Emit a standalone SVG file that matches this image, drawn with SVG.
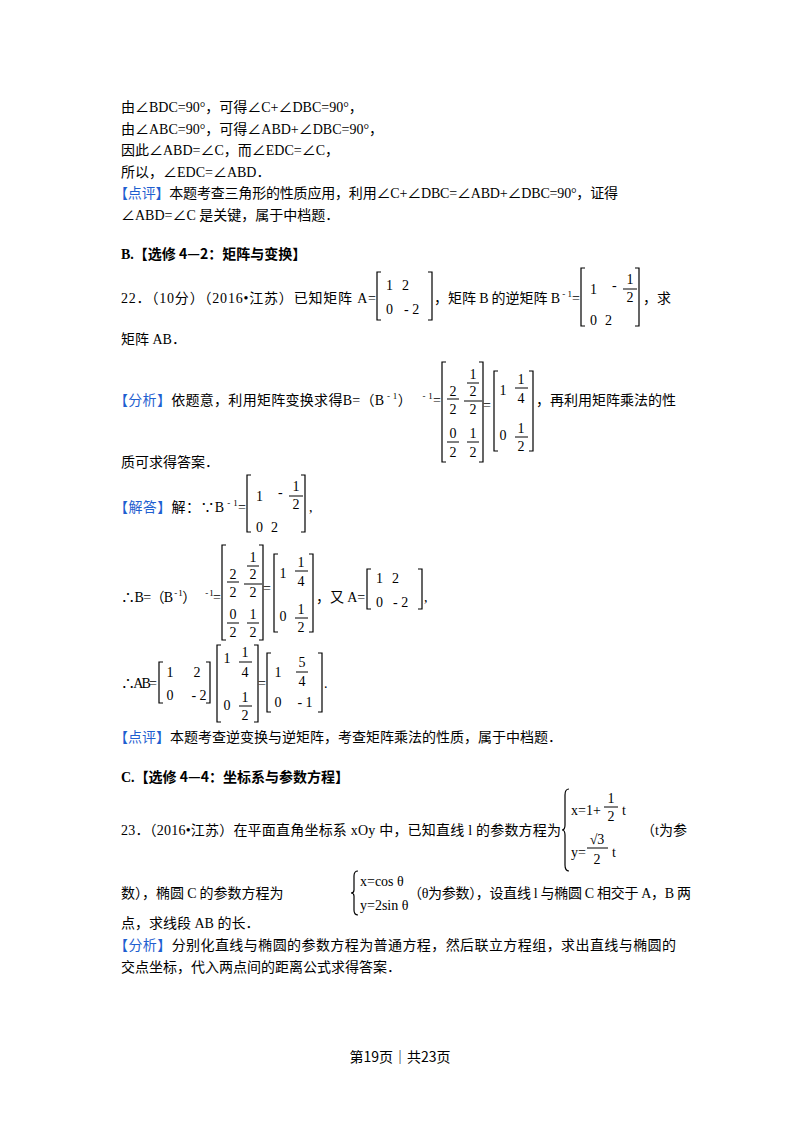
<svg xmlns="http://www.w3.org/2000/svg" width="800" height="1132" viewBox="0 0 800 1132">
<style>
text{font-family:"Liberation Serif","Noto Sans CJK SC",serif;font-size:14px;fill:#000}
.c{font-family:"Noto Sans CJK SC","Liberation Sans",sans-serif}
.b{fill:#1f5fd0}
.bold{font-weight:bold}
.m{font-family:"Liberation Serif",serif;font-size:14px}
.sm{font-size:9px}
.ct{text-anchor:middle}
.br{fill:none;stroke:#000;stroke-width:1.2}
.fl{stroke:#000;stroke-width:1}
</style>
<rect width="800" height="1132" fill="#fff"/>
<text x="121" y="112"><tspan class="c">由</tspan>∠BDC=90°<tspan class="c">，可得</tspan>∠C+∠DBC=90°<tspan class="c">，</tspan></text>
<text x="121" y="134"><tspan class="c">由</tspan>∠ABC=90°<tspan class="c">，可得</tspan>∠ABD+∠DBC=90°<tspan class="c">，</tspan></text>
<text x="121" y="155"><tspan class="c">因此</tspan>∠ABD=∠C<tspan class="c">，而</tspan>∠EDC=∠C<tspan class="c">，</tspan></text>
<text x="121" y="177"><tspan class="c">所以，</tspan>∠EDC=∠ABD<tspan class="c">．</tspan></text>
<text x="114" y="198" textLength="504"><tspan class="c b">【点评】</tspan><tspan class="c">本题考查三角形的性质应用，利用</tspan>∠C+∠DBC=∠ABD+∠DBC=90°<tspan class="c">，证得</tspan></text>
<text x="121" y="220">∠ABD=∠C <tspan class="c">是关键，属于中档题．</tspan></text>
<text x="121" y="259" class="bold">B.<tspan class="c">【选修 4—2：矩阵与变换】</tspan></text>

<text x="121" y="303" textLength="255">22<tspan class="c">．（</tspan>10<tspan class="c">分）（</tspan>2016•<tspan class="c">江苏）已知矩阵</tspan> A=</text>
<g>
<path class="br" d="M381,272 h-4 v48 h4 M428,272 h4 v48 h-4"/>
<text x="386" y="290">1</text><text x="402" y="290">2</text>
<text x="386" y="314">0</text><text x="404" y="314">- 2</text>
</g>
<text x="434" y="303" class="c">，矩阵 <tspan class="m">B</tspan> 的逆矩阵 <tspan class="m">B</tspan><tspan class="m sm" dy="-6"> - 1</tspan><tspan class="m" dy="6">=</tspan></text>
<g>
<path class="br" d="M585,268 h-4 v58 h4 M635,268 h4 v58 h-4"/>
<text x="590" y="294">1</text><text x="612" y="290">-</text>
<text x="630" y="284" class="ct">1</text><line class="fl" x1="623" y1="289" x2="637" y2="289"/><text x="630" y="302" class="ct">2</text>
<text x="590" y="325">0</text><text x="605" y="325">2</text>
</g>
<text x="643" y="303" class="c">，求</text>
<text x="121" y="344"><tspan class="c">矩阵</tspan> AB<tspan class="c">．</tspan></text>

<text x="114" y="405" textLength="327"><tspan class="c b">【分析】</tspan><tspan class="c">依题意，利用矩阵变换求得</tspan>B=<tspan class="c">（</tspan>B<tspan class="sm" dy="-6"> - 1</tspan><tspan dy="6" class="c">）</tspan><tspan class="sm" dx="8" dy="-6"> - 1</tspan><tspan dy="6">=</tspan></text>
<g id="m1">
<path class="br" d="M446,362 h-4 v100 h4 M479,362 h4 v100 h-4"/>
<text x="453" y="396" class="ct">2</text><line class="fl" x1="447" y1="399" x2="459" y2="399"/><text x="453" y="414" class="ct">2</text>
<text x="473" y="379" class="ct">1</text><line class="fl" x1="467" y1="383" x2="479" y2="383"/><text x="473" y="396" class="ct">2</text>
<line class="fl" x1="464" y1="401" x2="482" y2="401"/><text x="473" y="414" class="ct">2</text>
<text x="487" y="410" class="ct">=</text>
<text x="453" y="438" class="ct">0</text><line class="fl" x1="447" y1="442" x2="459" y2="442"/><text x="453" y="457" class="ct">2</text>
<text x="473" y="438" class="ct">1</text><line class="fl" x1="467" y1="442" x2="479" y2="442"/><text x="473" y="457" class="ct">2</text>
<path class="br" d="M498,371 h-4 v80 h4 M529,371 h4 v80 h-4"/>
<text x="503" y="395" class="ct">1</text>
<text x="521" y="384" class="ct">1</text><line class="fl" x1="515" y1="388" x2="528" y2="388"/><text x="521" y="403" class="ct">4</text>
<text x="503" y="440" class="ct">0</text>
<text x="521" y="433" class="ct">1</text><line class="fl" x1="515" y1="437" x2="528" y2="437"/><text x="521" y="451" class="ct">2</text>
</g>
<text x="536" y="405" class="c">，再利用矩阵乘法的性</text>
<text x="121" y="467" class="c">质可求得答案．</text>

<text x="114" y="512" textLength="132"><tspan class="c b">【解答】</tspan><tspan class="c">解：</tspan>∵B<tspan class="sm" dy="-6"> - 1</tspan><tspan dy="6">=</tspan></text>
<g>
<path class="br" d="M251,475 h-4 v57 h4 M301,475 h4 v57 h-4"/>
<text x="256" y="501">1</text><text x="278" y="497">-</text>
<text x="296" y="491" class="ct">1</text><line class="fl" x1="289" y1="496" x2="303" y2="496"/><text x="296" y="509" class="ct">2</text>
<text x="256" y="532">0</text><text x="271" y="532">2</text>
</g>
<text x="309" y="512">,</text>

<text x="121" y="602" textLength="100">∴B=<tspan class="c">（</tspan>B<tspan class="sm" dy="-6"> - 1</tspan><tspan dy="6" class="c">）</tspan><tspan class="sm" dx="8" dy="-6"> - 1</tspan><tspan dy="6">=</tspan></text>
<g transform="translate(-220,183)">
<path class="br" d="M446,362 h-4 v95 h4 M479,362 h4 v95 h-4"/>
<text x="453" y="396" class="ct">2</text><line class="fl" x1="447" y1="399" x2="459" y2="399"/><text x="453" y="414" class="ct">2</text>
<text x="473" y="379" class="ct">1</text><line class="fl" x1="467" y1="383" x2="479" y2="383"/><text x="473" y="396" class="ct">2</text>
<line class="fl" x1="464" y1="401" x2="482" y2="401"/><text x="473" y="414" class="ct">2</text>
<text x="487" y="410" class="ct">=</text>
<text x="453" y="436" class="ct">0</text><line class="fl" x1="447" y1="440" x2="459" y2="440"/><text x="453" y="454" class="ct">2</text>
<text x="473" y="436" class="ct">1</text><line class="fl" x1="467" y1="440" x2="479" y2="440"/><text x="473" y="454" class="ct">2</text>
<path class="br" d="M498,371 h-4 v78 h4 M529,371 h4 v78 h-4"/>
<text x="503" y="395" class="ct">1</text>
<text x="521" y="384" class="ct">1</text><line class="fl" x1="515" y1="388" x2="528" y2="388"/><text x="521" y="403" class="ct">4</text>
<text x="503" y="438" class="ct">0</text>
<text x="521" y="431" class="ct">1</text><line class="fl" x1="515" y1="435" x2="528" y2="435"/><text x="521" y="449" class="ct">2</text>
</g>
<text x="316" y="602" class="c">，又 <tspan class="m">A=</tspan></text>
<g>
<path class="br" d="M371,569 h-4 v40 h4 M418,569 h4 v40 h-4"/>
<text x="376" y="583">1</text><text x="392" y="583">2</text>
<text x="376" y="607">0</text><text x="393" y="607">- 2</text>
</g>
<text x="424" y="602">,</text>

<text x="121" y="688" textLength="36">∴AB=</text>
<g>
<path class="br" d="M163,662 h-4 v41 h4 M206,662 h4 v41 h-4"/>
<text x="170" y="677" class="ct">1</text><text x="197" y="677" class="ct">2</text>
<text x="170" y="700" class="ct">0</text><text x="199" y="700" class="ct">- 2</text>
<path class="br" d="M221,645 h-4 v77 h4 M254,645 h4 v77 h-4"/>
<text x="227" y="663" class="ct">1</text>
<text x="245" y="657" class="ct">1</text><line class="fl" x1="239" y1="662" x2="252" y2="662"/><text x="245" y="677" class="ct">4</text>
<text x="227" y="710" class="ct">0</text>
<text x="245" y="702" class="ct">1</text><line class="fl" x1="239" y1="706" x2="252" y2="706"/><text x="245" y="720" class="ct">2</text>
<text x="262" y="688" class="ct">=</text>
<path class="br" d="M271,653 h-4 v59 h4 M318,653 h4 v59 h-4"/>
<text x="278" y="677" class="ct">1</text>
<text x="302" y="667" class="ct">5</text><line class="fl" x1="296" y1="672" x2="308" y2="672"/><text x="302" y="686" class="ct">4</text>
<text x="278" y="707" class="ct">0</text><text x="305" y="707" class="ct">- 1</text>
</g>
<text x="324" y="688">.</text>

<text x="114" y="742"><tspan class="c b">【点评】</tspan><tspan class="c">本题考查逆变换与逆矩阵，考查矩阵乘法的性质，属于中档题．</tspan></text>
<text x="121" y="782" class="bold">C.<tspan class="c">【选修 4—4：坐标系与参数方程】</tspan></text>

<text x="121" y="835" textLength="440">23<tspan class="c">．（</tspan>2016•<tspan class="c">江苏）在平面直角坐标系</tspan> xOy <tspan class="c">中，已知直线</tspan> l <tspan class="c">的参数方程为</tspan></text>
<g>
<path class="br" d="M569,789 q-4,0 -4,6 v30 q0,5 -3,5 q3,0 3,5 v30 q0,6 4,6"/>
<text x="571" y="815" font-size="12">x=1+</text>
<text x="611" y="803" class="ct" font-size="13">1</text><line class="fl" x1="604" y1="807" x2="618" y2="807"/><text x="611" y="821" class="ct" font-size="13">2</text>
<text x="622" y="815" font-size="12">t</text>
<text x="571" y="857" font-size="12">y=</text>
<text x="597" y="844" class="ct" font-size="13">√3</text><line class="fl" x1="587" y1="848" x2="608" y2="848"/><text x="597" y="864" class="ct" font-size="13">2</text>
<text x="612" y="857" font-size="12">t</text>
</g>
<text x="641" y="835"><tspan class="c">（</tspan>t<tspan class="c">为参</tspan></text>
<text x="121" y="898" class="c">数），椭圆 <tspan class="m">C</tspan> 的参数方程为</text>
<g>
<path class="br" d="M358,871 q-4,0 -4,5 v14 q0,3 -3,3 q3,0 3,3 v14 q0,5 4,5"/>
<text x="360" y="886" font-size="12" font-family="Liberation Mono,monospace">x=cos θ</text>
<text x="360" y="910" font-size="12" font-family="Liberation Mono,monospace">y=2sin θ</text>
</g>
<text x="408" y="898" textLength="283"><tspan class="c">（</tspan>θ<tspan class="c">为参数），设直线</tspan> l <tspan class="c">与椭圆</tspan> C <tspan class="c">相交于</tspan> A<tspan class="c">，</tspan>B <tspan class="c">两</tspan></text>
<text x="121" y="928"><tspan class="c">点，求线段</tspan> AB <tspan class="c">的长．</tspan></text>
<text x="114" y="950" textLength="562"><tspan class="c b">【分析】</tspan><tspan class="c">分别化直线与椭圆的参数方程为普通方程，然后联立方程组，求出直线与椭圆的</tspan></text>
<text x="121" y="972" class="c">交点坐标，代入两点间的距离公式求得答案．</text>
<text x="400" y="1062" class="c ct" font-size="13">第19页｜共23页</text>
</svg>
